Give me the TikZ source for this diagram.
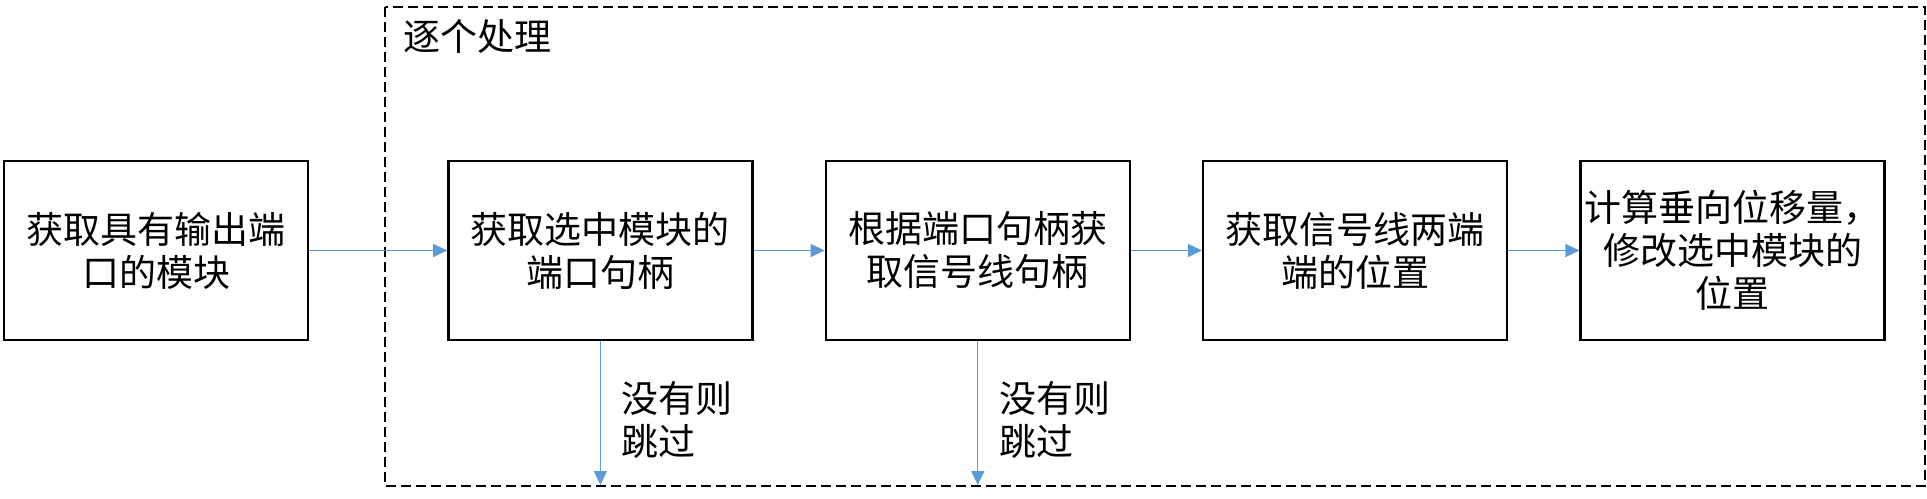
\documentclass[tikz,border=0pt]{standalone}
\usepackage{fontspec}
\setmainfont{Noto Sans CJK SC}
\usetikzlibrary{positioning,arrows.meta}
\definecolor{arrowblue}{HTML}{5B9BD5}
\tikzset{
  stepbox/.style={draw, line width=2.4pt, minimum width=304pt, minimum height=179pt,
    align=center, inner sep=0pt, font=\fontsize{37}{43}\selectfont},
  flow/.style={draw=arrowblue, line width=1.3pt, -{Triangle[length=14pt,width=13pt,fill=arrowblue]}},
  note/.style={align=left, inner sep=0pt, font=\fontsize{37}{43}\selectfont},
}
\begin{document}
\begin{tikzpicture}[x=1pt, y=-1pt]
  \useasboundingbox[fill=white] (0,0) rectangle (1927,498);
  % the loop frame
  \draw[line width=2.4pt, dash pattern=on 10pt off 5pt] (385,7) rectangle (1925,486);
  \node[note, anchor=west] (loop) at (403,36) {逐个处理};
  % the steps
  \node[stepbox] (getmod) at (156,250.5) {获取具有输出端\\口的模块};
  \node[stepbox, right=138pt of getmod] (porth) {获取选中模块的\\端口句柄};
  \node[stepbox, right=71pt of porth] (lineh) {根据端口句柄获\\取信号线句柄};
  \node[stepbox, right=71pt of lineh] (endpos) {获取信号线两端\\端的位置};
  \node[stepbox, right=71pt of endpos] (movemod) {计算垂向位移量，\\修改选中模块的\\位置};
  % arrows
  \draw[flow] (getmod) -- (porth);
  \draw[flow] (porth) -- (lineh);
  \draw[flow] (lineh) -- (endpos);
  \draw[flow] (endpos) -- (movemod);
  % skip branches
  \coordinate (skipa) at (porth.south |- 0,485);
  \coordinate (skipb) at (lineh.south |- 0,485);
  \draw[flow] (porth) -- (skipa);
  \draw[flow] (lineh) -- (skipb);
  \node[note, anchor=north west] (skipnotea) at ([xshift=21pt, yshift=-40pt]porth.south) {没有则\\跳过};
  \node[note, anchor=north west] (skipnoteb) at ([xshift=21pt, yshift=-40pt]lineh.south) {没有则\\跳过};
\end{tikzpicture}
\end{document}
